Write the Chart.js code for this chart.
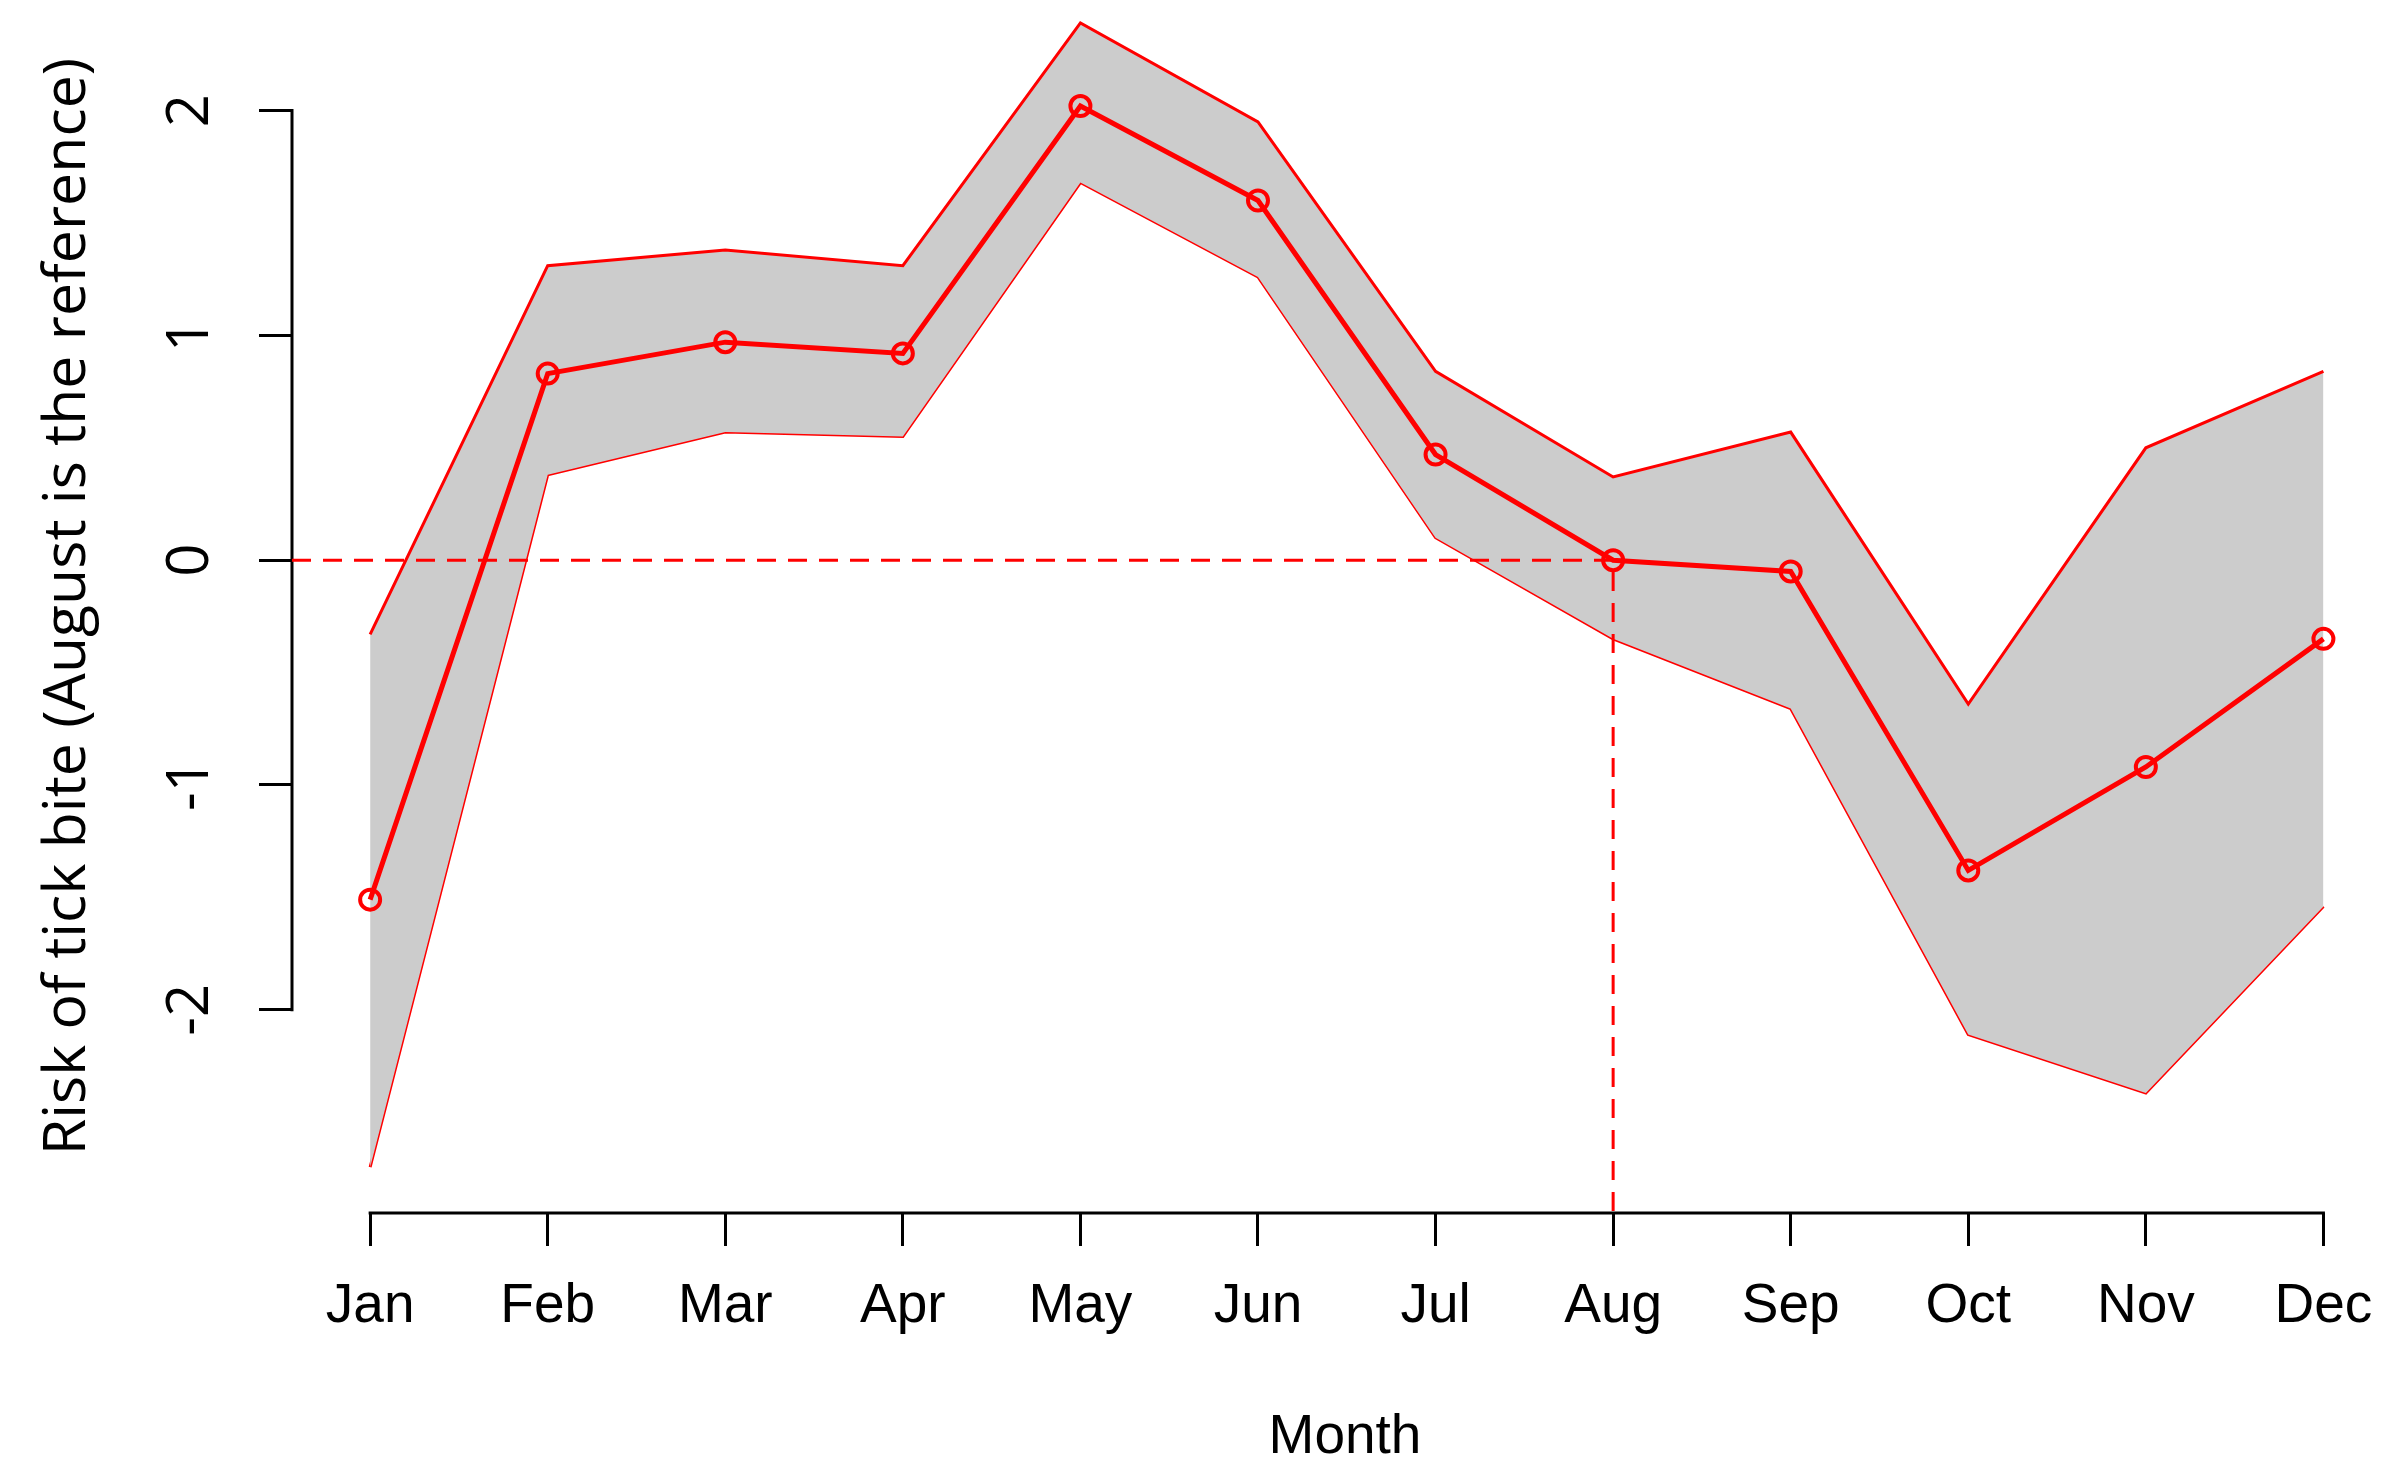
<!DOCTYPE html>
<html>
<head>
<meta charset="utf-8">
<script src="https://cdn.jsdelivr.net/npm/chart.js@4.4.1/dist/chart.umd.min.js"></script>
<style>
  html, body { margin: 0; padding: 0; background: #ffffff; }
  canvas { display: block; }
</style>
</head>
<body>
<canvas id="myChart" width="2398" height="1475"></canvas>
<script>
// Step 1: chart data
var months = ["Jan", "Feb", "Mar", "Apr", "May", "Jun", "Jul", "Aug", "Sep", "Oct", "Nov", "Dec"];
var estimate = [-1.51, 0.83, 0.97, 0.92, 2.02, 1.60, 0.47, 0.00, -0.05, -1.38, -0.92, -0.35];
var upperCI = [-0.33, 1.31, 1.38, 1.31, 2.39, 1.95, 0.84, 0.37, 0.57, -0.64, 0.50, 0.84];
var lowerCI = [-2.70, 0.38, 0.57, 0.55, 1.68, 1.26, 0.10, -0.35, -0.66, -2.11, -2.37, -1.54];
var yTicks = [-2, -1, 0, 1, 2];
var refMonth = 8;   // August
var refValue = 0;

// axis limits (R style, 4% beyond the data)
var xMin = 0.56, xMax = 12.42;
var yMin = -2.904, yMax = 2.492;

function points(values) {
    return values.map(function (v, i) { return { x: i + 1, y: v }; });
}

// Step 2: R-like axis lines that only span first to last tick
var axisLines = {
    id: 'axisLines',
    beforeDatasetsDraw: function (chart) {
        var ctx = chart.ctx;
        var xs = chart.scales.x, ys = chart.scales.y;
        var area = chart.chartArea;
        ctx.save();
        ctx.strokeStyle = '#000000';
        ctx.lineWidth = 3;
        ctx.lineCap = 'square';
        ctx.beginPath();
        ctx.moveTo(xs.getPixelForValue(1), area.bottom);
        ctx.lineTo(xs.getPixelForValue(months.length), area.bottom);
        ctx.moveTo(area.left, ys.getPixelForValue(yTicks[0]));
        ctx.lineTo(area.left, ys.getPixelForValue(yTicks[yTicks.length - 1]));
        ctx.stroke();
        ctx.restore();
    }
};

// Step 3: initialize chart
var ctx = document.getElementById("myChart").getContext("2d");
var myChart = new Chart(ctx, {
    type: 'line',
    data: {
        datasets: [{
            label: 'upper',
            data: points(upperCI),
            borderColor: '#ff0000',
            borderWidth: 3,
            backgroundColor: '#cccccc',
            fill: '+1',
            pointRadius: 0,
            order: 3
        }, {
            label: 'lower',
            data: points(lowerCI),
            borderColor: '#ff0000',
            borderWidth: 3,
            fill: false,
            pointRadius: 0,
            order: 3
        }, {
            label: 'reference',
            data: [{ x: xMin, y: refValue }, { x: refMonth, y: refValue }, { x: refMonth, y: yMin }],
            borderColor: '#ff0000',
            borderWidth: 3,
            borderDash: [19, 12],
            fill: false,
            pointRadius: 0,
            order: 2
        }, {
            label: 'estimate',
            data: points(estimate),
            borderColor: '#ff0000',
            borderWidth: 5,
            fill: false,
            pointRadius: 10,
            pointBorderWidth: 4,
            pointBorderColor: '#ff0000',
            pointBackgroundColor: 'rgba(0,0,0,0)',
            order: 1
        }]
    },
    options: {
        responsive: false,
        devicePixelRatio: 1,
        animation: false,
        layout: { padding: 0, autoPadding: false },
        elements: { line: { tension: 0 } },
        plugins: {
            legend: { display: false },
            tooltip: { enabled: false }
        },
        scales: {
            x: {
                type: 'linear',
                min: xMin,
                max: xMax,
                afterBuildTicks: function (scale) {
                    scale.ticks = months.map(function (m, i) { return { value: i + 1 }; });
                },
                afterFit: function (scale) {
                    scale.height = 262;
                    scale.paddingLeft = 0;
                    scale.paddingRight = 0;
                },
                border: { display: false },
                grid: {
                    drawOnChartArea: false,
                    drawTicks: true,
                    tickLength: 33,
                    lineWidth: 3,
                    color: '#000000'
                },
                ticks: {
                    autoSkip: false,
                    maxRotation: 0,
                    padding: 28,
                    color: '#000000',
                    font: { family: 'Liberation Sans', size: 55 },
                    callback: function (value) { return months[value - 1]; }
                },
                title: {
                    display: true,
                    text: 'Month',
                    color: '#000000',
                    font: { family: 'Liberation Sans', size: 55 },
                    padding: { top: 0, bottom: 4 }
                }
            },
            y: {
                min: yMin,
                max: yMax,
                afterBuildTicks: function (scale) {
                    scale.ticks = yTicks.map(function (v) { return { value: v }; });
                },
                afterFit: function (scale) {
                    scale.width = 292;
                    scale.paddingTop = 0;
                    scale.paddingBottom = 0;
                },
                border: { display: false },
                grid: {
                    drawOnChartArea: false,
                    drawTicks: true,
                    tickLength: 33,
                    lineWidth: 3,
                    color: '#000000'
                },
                ticks: {
                    minRotation: 90,
                    maxRotation: 90,
                    crossAlign: 'center',
                    padding: 42,
                    color: '#000000',
                    font: { family: 'Open Sans', size: 58 }
                },
                title: {
                    display: true,
                    text: 'Risk of tick bite (August is the reference)',
                    color: '#000000',
                    font: { family: 'Open Sans', size: 59 },
                    padding: { top: 33, bottom: 0 }
                }
            }
        }
    },
    plugins: [axisLines]
});

myChart.update();
</script>
</body>
</html>
